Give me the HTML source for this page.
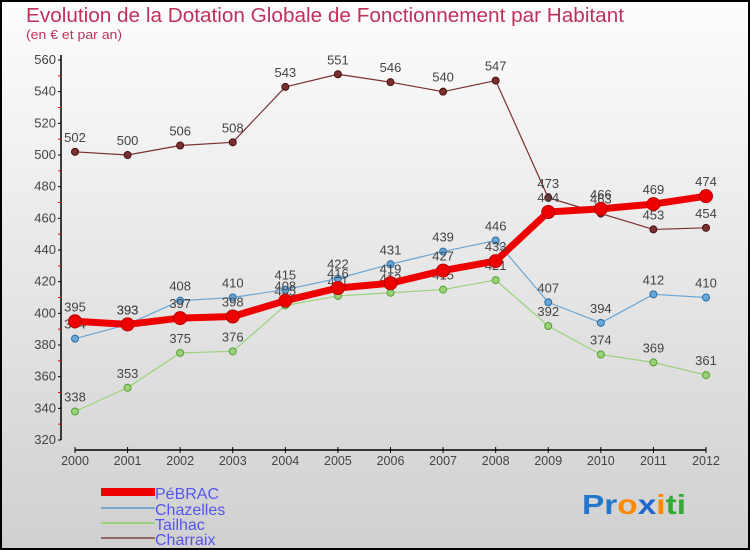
<!DOCTYPE html>
<html><head><meta charset="utf-8"><style>
body{margin:0}
svg{display:block;font-family:"Liberation Sans",sans-serif}
</style></head><body>
<svg id="c" width="750" height="550">
<defs><linearGradient id="bg" x1="0" y1="0" x2="0" y2="1"><stop offset="0" stop-color="#fdfdfd"/><stop offset="1" stop-color="#d0d0d0"/></linearGradient></defs>
<rect x="1" y="1" width="748" height="548" fill="url(#bg)" stroke="#000" stroke-width="2"/>
<text x="26" y="22" font-size="20" fill="#c0305a" textLength="598" lengthAdjust="spacingAndGlyphs">Evolution de la Dotation Globale de Fonctionnement par Habitant</text>
<text x="26" y="39" font-size="13" fill="#c0305a" textLength="96" lengthAdjust="spacingAndGlyphs">(en € et par an)</text>
<g id="axes"></g><g id="series"></g>
<g>
<rect x="101" y="488" width="54" height="8" fill="#e00"/>
<text x="155" y="499" font-size="16" fill="#5555ee">PéBRAC</text>
<line x1="101" y1="508" x2="155" y2="508" stroke="#7aa7cc" stroke-width="2"/>
<text x="155" y="515" font-size="16" fill="#5555ee">Chazelles</text>
<line x1="101" y1="523" x2="155" y2="523" stroke="#99d27a" stroke-width="2"/>
<text x="155" y="530" font-size="16" fill="#5555ee">Tailhac</text>
<line x1="101" y1="538" x2="155" y2="538" stroke="#906868" stroke-width="2"/>
<text x="155" y="545" font-size="16" fill="#5555ee">Charraix</text>
</g>
<text x="582" y="514" font-size="28" font-weight="bold" textLength="104" lengthAdjust="spacingAndGlyphs"><tspan fill="#2277cc">Pr</tspan><tspan fill="#ff8800">o</tspan><tspan fill="#2266cc">x</tspan><tspan fill="#ff8800">i</tspan><tspan fill="#33aa33">ti</tspan></text>
</svg>
<script>
const years=[2000,2001,2002,2003,2004,2005,2006,2007,2008,2009,2010,2011,2012];
const yTicks=[320,340,360,380,400,420,440,460,480,500,520,540,560];
const pebrac=[395,393,397,398,408,416,419,427,433,464,466,469,474];
const chazelles=[384,393,408,410,415,422,431,439,446,407,394,412,410];
const tailhac=[338,353,375,376,405,411,413,415,421,392,374,369,361];
const charraix=[502,500,506,508,543,551,546,540,547,473,463,453,454];
const NS="http://www.w3.org/2000/svg";
const xs=i=>75+i*(706-75)/(years.length-1);
const ys=v=>440-(v-320)*380/240;
function mk(p,t,a){const e=document.createElementNS(NS,t);for(const k in a)e.setAttribute(k,a[k]);p.appendChild(e);return e;}
const ax=document.getElementById('axes');
let l=mk(ax,'line',{x1:61,y1:55,x2:61,y2:440,stroke:'#000','stroke-width':1.5});


l=mk(ax,'line',{x1:75,y1:450,x2:706,y2:450,stroke:'#000','stroke-width':1.5});


yTicks.forEach((v,i)=>{
 mk(ax,'line',{x1:58,y1:ys(v),x2:61,y2:ys(v),stroke:'#000'});
 if(i<yTicks.length-1)mk(ax,'line',{x1:58,y1:ys(v+10),x2:61,y2:ys(v+10),stroke:'#e00'});
 const t=mk(ax,'text',{x:56,y:ys(v)+4,'text-anchor':'end','font-size':13,fill:'#444'});
 t.textContent=v;
 
 
});
years.forEach((y,i)=>{
 mk(ax,'line',{x1:xs(i),y1:447,x2:xs(i),y2:453,stroke:'#000'});
 const t=mk(ax,'text',{x:xs(i),y:465,'text-anchor':'middle','font-size':12.5,fill:'#444'});
 t.textContent=y;
 
 
});
const sg=document.getElementById('series');
function draw(name,vals,col,dark,w,r){
 const g=mk(sg,'g',{});
 
 
 const pl=mk(g,'polyline',{points:vals.map((v,i)=>xs(i)+','+ys(v)).join(' '),fill:'none',stroke:col,'stroke-width':w,'stroke-linejoin':'round'});
 
 
 vals.forEach((v,i)=>{
  const c=mk(g,'circle',{cx:xs(i),cy:ys(v),r:r,fill:col,stroke:dark,'stroke-width':1});
  
  
  const t=mk(g,'text',{x:xs(i),y:ys(v)-10,'text-anchor':'middle','font-size':13,fill:'#444'});
  t.textContent=v;
  
  
 });
}
draw('charraix',charraix,'#7a3030','#4a1010',1.2,3.5);
draw('tailhac',tailhac,'#99d27a','#55a030',1.2,3.5);
draw('chazelles',chazelles,'#6aa6d6','#2a6ea6',1.2,3.5);
draw('pebrac',pebrac,'#ee0000','#bb0000',7,6.5);
</script>
</body></html>
